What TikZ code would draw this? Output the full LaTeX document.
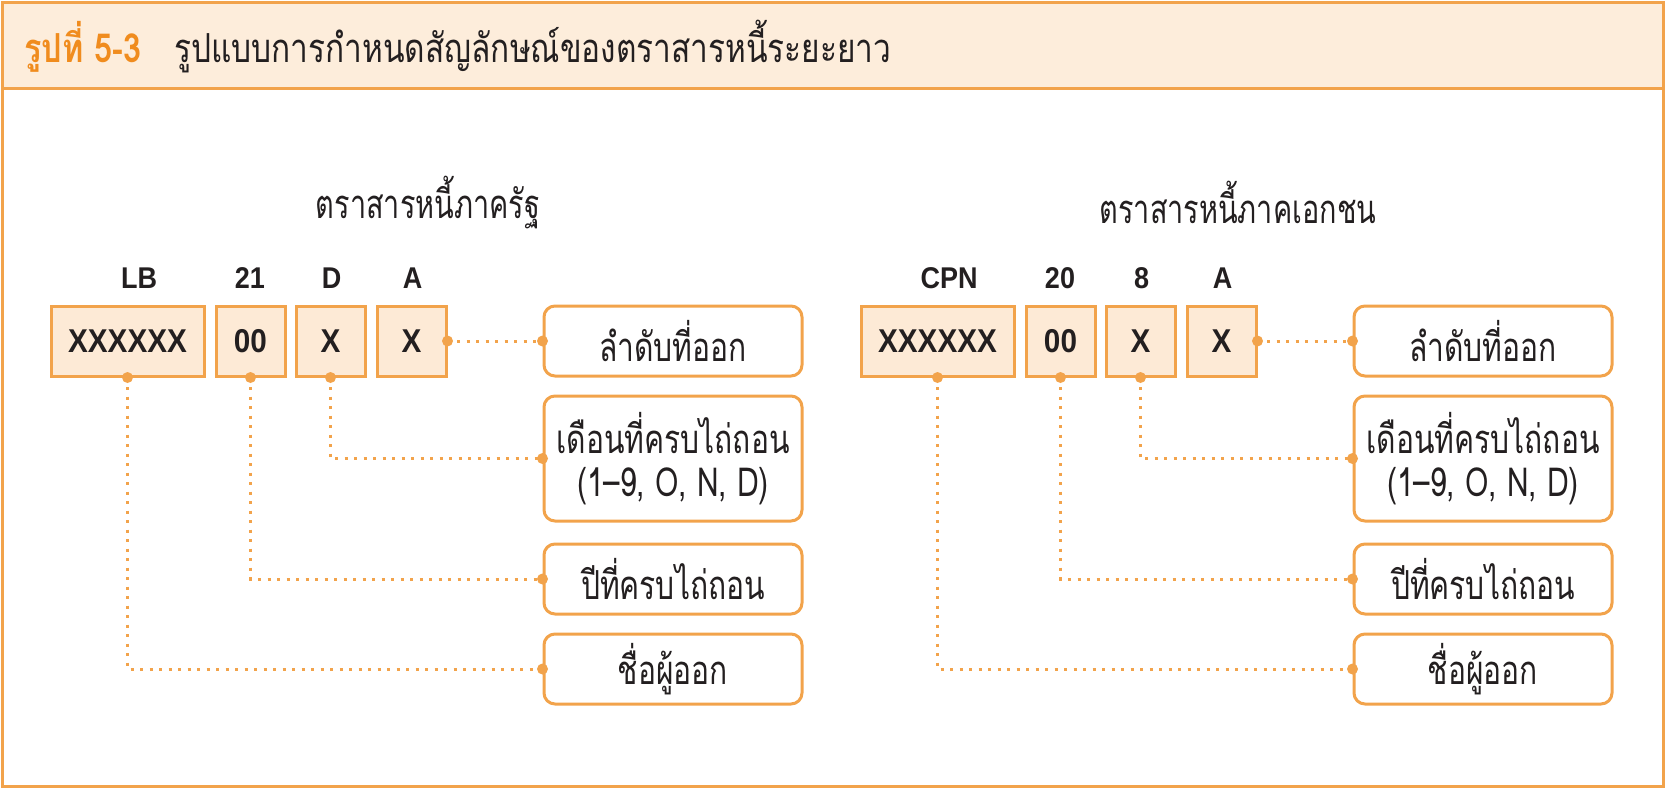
\documentclass[tikz,border=0pt]{standalone}
\usepackage{fontspec}
\newfontfamily\thaiH[Script=Thai,FakeStretch=0.79]{Loma}
\newfontfamily\thaiF[Script=Thai,FakeStretch=0.81]{Loma}
\newfontfamily\thaiL[Script=Thai,FakeStretch=0.75]{Loma}
\newfontfamily\thaiS[Script=Thai,FakeStretch=0.72]{Loma}
\newfontfamily\latb[FakeStretch=0.9]{Liberation Sans}
\definecolor{orln}{RGB}{242,163,75}
\definecolor{orfill}{RGB}{253,234,214}
\definecolor{hdfill}{RGB}{253,237,219}
\definecolor{ortxt}{RGB}{240,140,30}
\definecolor{ink}{RGB}{35,31,32}
\tikzset{
  codebox/.style={draw=orln, fill=orfill, line width=3pt, minimum height=70pt, inner sep=0pt, text=ink, font=\latb\bfseries\fontsize{33}{33}\selectfont},
  lblbox/.style={draw=orln, fill=white, line width=3pt, rounded corners=11pt, minimum width=258pt, inner sep=0pt, text=ink, align=center, font=\thaiL\fontsize{40}{43}\selectfont},
  toplbl/.style={text=ink, font=\latb\bfseries\fontsize{30}{30}\selectfont},
  sectitle/.style={text=ink, font=\thaiS\fontsize{40}{40}\selectfont},
  conn/.style={draw=orln, line width=3pt, dash pattern=on 3pt off 6.5pt},
  dotend/.style={fill=orln, draw=none, circle, minimum size=11pt, inner sep=0pt}
}
\begin{document}
\begin{tikzpicture}[x=1pt,y=-1pt]
\useasboundingbox (0,0) rectangle (1665,788);
% frame and header
\fill[hdfill] (2,2) rectangle (1663,88);
\draw[orln, line width=3pt] (2,2) rectangle (1663,786);
\draw[orln, line width=3pt] (2,88) -- (1663,88);
\node[anchor=west, inner sep=0pt, text=ortxt, font=\thaiF\bfseries\fontsize{40}{40}\selectfont] (fig) at (24,47) {รูปที่ 5-3};
\node[anchor=west, inner sep=0pt, text=ink, font=\thaiH\fontsize{40}{40}\selectfont] (title) at (174,47) {รูปแบบการกำหนดสัญลักษณ์ของตราสารหนี้ระยะยาว};

\foreach \dx/\pre/\ya/\yb/\yc/\stt in {0/L/LB/21/D/ตราสารหนี้ภาครัฐ, 810/R/CPN/20/8/ตราสารหนี้ภาคเอกชน}{
  \node[sectitle] (\pre st) at (428+\dx,202) {\stt};
  \node[codebox, minimum width=153pt] (\pre b1) at (127.5+\dx,341) {XXXXXX};
  \node[codebox, minimum width=69pt] (\pre b2) at (250.5+\dx,341) {00};
  \node[codebox, minimum width=69pt] (\pre b3) at (330.5+\dx,341) {X};
  \node[codebox, minimum width=69pt] (\pre b4) at (411.5+\dx,341) {X};
  \node[toplbl] (\pre t1) at (139+\dx,278) {\ya};
  \node[toplbl] (\pre t2) at (250+\dx,278) {\yb};
  \node[toplbl] (\pre t3) at (331.5+\dx,278) {\yc};
  \node[toplbl] (\pre t4) at (412.5+\dx,278) {A};
  \node[lblbox, minimum height=70pt] (\pre l1) at (673+\dx,341) {ลำดับที่ออก};
  \node[lblbox, minimum height=125pt] (\pre l2) at (673+\dx,458.5) {เดือนที่ครบไถ่ถอน\\(1–9, O, N, D)};
  \node[lblbox, minimum height=70pt] (\pre l3) at (673+\dx,579) {ปีที่ครบไถ่ถอน};
  \node[lblbox, minimum height=70pt] (\pre l4) at (673+\dx,669) {ชื่อผู้ออก};
  \draw[conn] (\pre b4.east) -- (\pre l1.west);
  \draw[conn] (\pre b3.south) |- (\pre l2.west);
  \draw[conn] (\pre b2.south) |- (\pre l3.west);
  \draw[conn] (\pre b1.south) |- (\pre l4.west);
  \foreach \a in {b4.east, l1.west, b3.south, l2.west, b2.south, l3.west, b1.south, l4.west}
    \node[dotend] at (\pre\a) {};
}
\end{tikzpicture}
\end{document}
